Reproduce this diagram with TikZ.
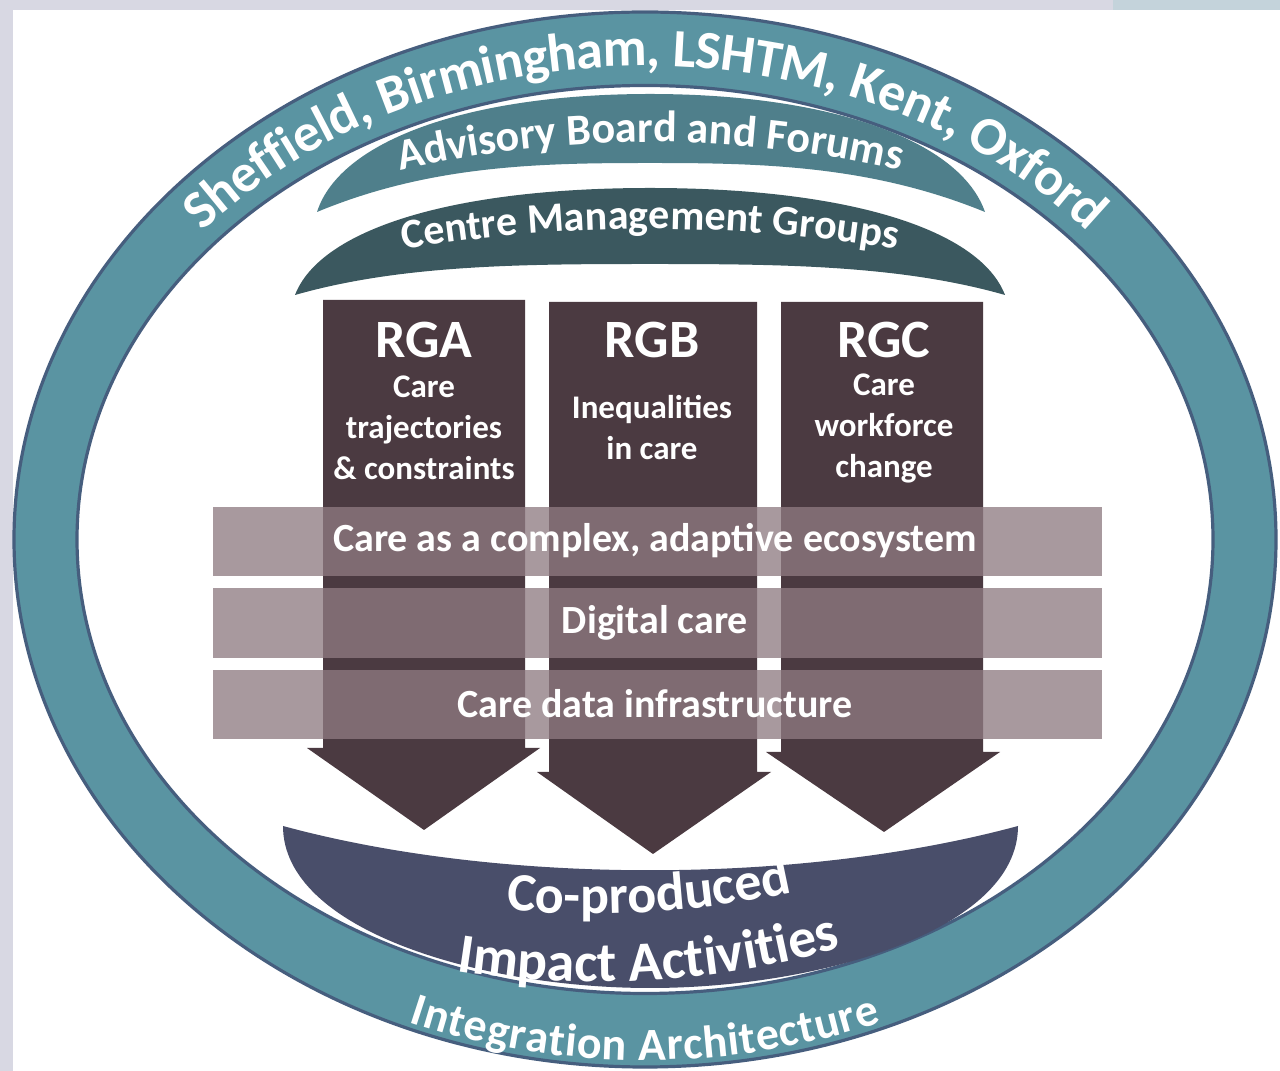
\documentclass[tikz,border=0pt]{standalone}
\usepackage{fontspec}
\setmainfont{Carlito}
\usetikzlibrary{decorations.text}

\definecolor{lav}{HTML}{D8D8E3}
\definecolor{lavblue}{HTML}{C4D3DB}
\definecolor{ring}{HTML}{5A94A2}
\definecolor{ringedge}{HTML}{465E7E}
\definecolor{advisory}{HTML}{4F7F8B}
\definecolor{cmg}{HTML}{3B585F}
\definecolor{plum}{HTML}{4B3A41}
\definecolor{mauve}{HTML}{8F7B82}
\definecolor{navy}{HTML}{494E6A}

\begin{document}
\begin{tikzpicture}[x=0.5pt, y=0.5pt,
  title/.style={text=white, font=\bfseries\fontsize{27}{30}\selectfont},
  sub/.style={text=white, align=center, font=\bfseries\fontsize{16.5}{20.5}\selectfont},
  bandlbl/.style={text=white, font=\bfseries\fontsize{20}{24}\selectfont},
  band/.style={fill=mauve, fill opacity=0.77},
  arctext/.style={decorate, decoration={text along path, text align=center, text color=white, #1}}]
  \useasboundingbox (0,0) rectangle (1280,1071);
  \fill[lav] (0,0) rectangle (1280,1071);
  \fill[white] (13,0) rectangle (1280,1061);
  \fill[lavblue] (1113,1061) rectangle (1280,1071);

  % outer ring
  \coordinate (C) at (645,531.5);
  \fill[ring, even odd rule] (C) ellipse[x radius=631, y radius=527.5] (C) ellipse[x radius=568, y radius=454];
  \draw[ringedge, line width=1.6pt] (C) ellipse[x radius=631, y radius=527.5];
  \draw[ringedge, line width=1.6pt] (C) ellipse[x radius=568, y radius=454];
  \path[arctext={text={|\bfseries\fontsize{27}{27}\selectfont|Sheffield, Birmingham, LSHTM, Kent, Oxford}, raise=-8.7pt}]
    (C) ++(175:599.5 and 490.75) arc[start angle=175, end angle=5, x radius=599.5, y radius=490.75];
  \path[arctext={text={|\bfseries\fontsize{23}{23}\selectfont|Integration Architecture}, raise=-15pt}]
    (C) ++(235:599.5 and 490.75) arc[start angle=235, end angle=305, x radius=599.5, y radius=490.75];

  % governance crescents
  \fill[advisory] (317,859) .. controls (340,931) and (470,977) .. (650,977)
    .. controls (830,977) and (960,931) .. (985,859)
    .. controls (870,906) and (760,908) .. (650,908)
    .. controls (540,908) and (430,906) .. (317,859) -- cycle;
  \path[arctext={text={|\bfseries\fontsize{22}{22}\selectfont|Advisory Board and Forums}}]
    (650,-171) ++(110:1100) arc[start angle=110, end angle=70, radius=1100];
  \fill[cmg] (295,776) .. controls (320,841) and (450,883) .. (650,883)
    .. controls (850,883) and (980,841) .. (1005,776)
    .. controls (900,806) and (780,807) .. (650,807)
    .. controls (520,807) and (400,806) .. (295,776) -- cycle;
  \path[arctext={text={|\bfseries\fontsize{21}{21}\selectfont|Centre Management Groups}}]
    (650,-658) ++(105:1500) arc[start angle=105, end angle=75, radius=1500];

  % research group arrows
  \fill[plum] (323,771) -- (525,771) -- (525,323) -- (540,323) -- (424,241) -- (307,323) -- (323,323) -- cycle;
  \fill[plum] (549,769) -- (757,769) -- (757,299) -- (771,299) -- (653,217) -- (537,299) -- (549,299) -- cycle;
  \fill[plum] (781,769) -- (983,769) -- (983,319) -- (1000,319) -- (884,239) -- (766,319) -- (781,319) -- cycle;
  \node[title] (rga) at (424,731) {RGA};
  \node[title] (rgb) at (652,731) {RGB};
  \node[title] (rgc) at (884,731) {RGC};
  \node[sub] (rgaSub) at (424,643) {Care\\trajectories\\\& constraints};
  \node[sub] (rgbSub) at (652,643) {Inequalities\\in care};
  \node[sub] (rgcSub) at (884,643) {Care\\workforce\\change};

  % cross-cutting themes
  \fill[band] (213,495) rectangle (1102,564);
  \fill[band] (213,413) rectangle (1102,483);
  \fill[band] (213,332) rectangle (1102,401);
  \node[bandlbl] (eco) at (655,530) {Care as a complex, adaptive ecosystem};
  \node[bandlbl] (digital) at (655,448) {Digital care};
  \node[bandlbl] (data) at (655,367) {Care data infrastructure};

  % impact bowl
  \fill[navy] (283,245) .. controls (500,186) and (800,186) .. (1018,245)
    .. controls (1018,141) and (820,83) .. (650,83)
    .. controls (480,83) and (283,141) .. (283,245) -- cycle;
  \path[arctext={text={|\bfseries\fontsize{27}{27}\selectfont|Co-produced}}]
    (595,1057) ++(-106.5:900) arc[start angle=-106.5, end angle=-66.5, radius=900];
  \path[arctext={text={|\bfseries\fontsize{28}{28}\selectfont|Impact Activities}}]
    (595,989) ++(-106.5:900) arc[start angle=-106.5, end angle=-66.5, radius=900];
\end{tikzpicture}
\end{document}
